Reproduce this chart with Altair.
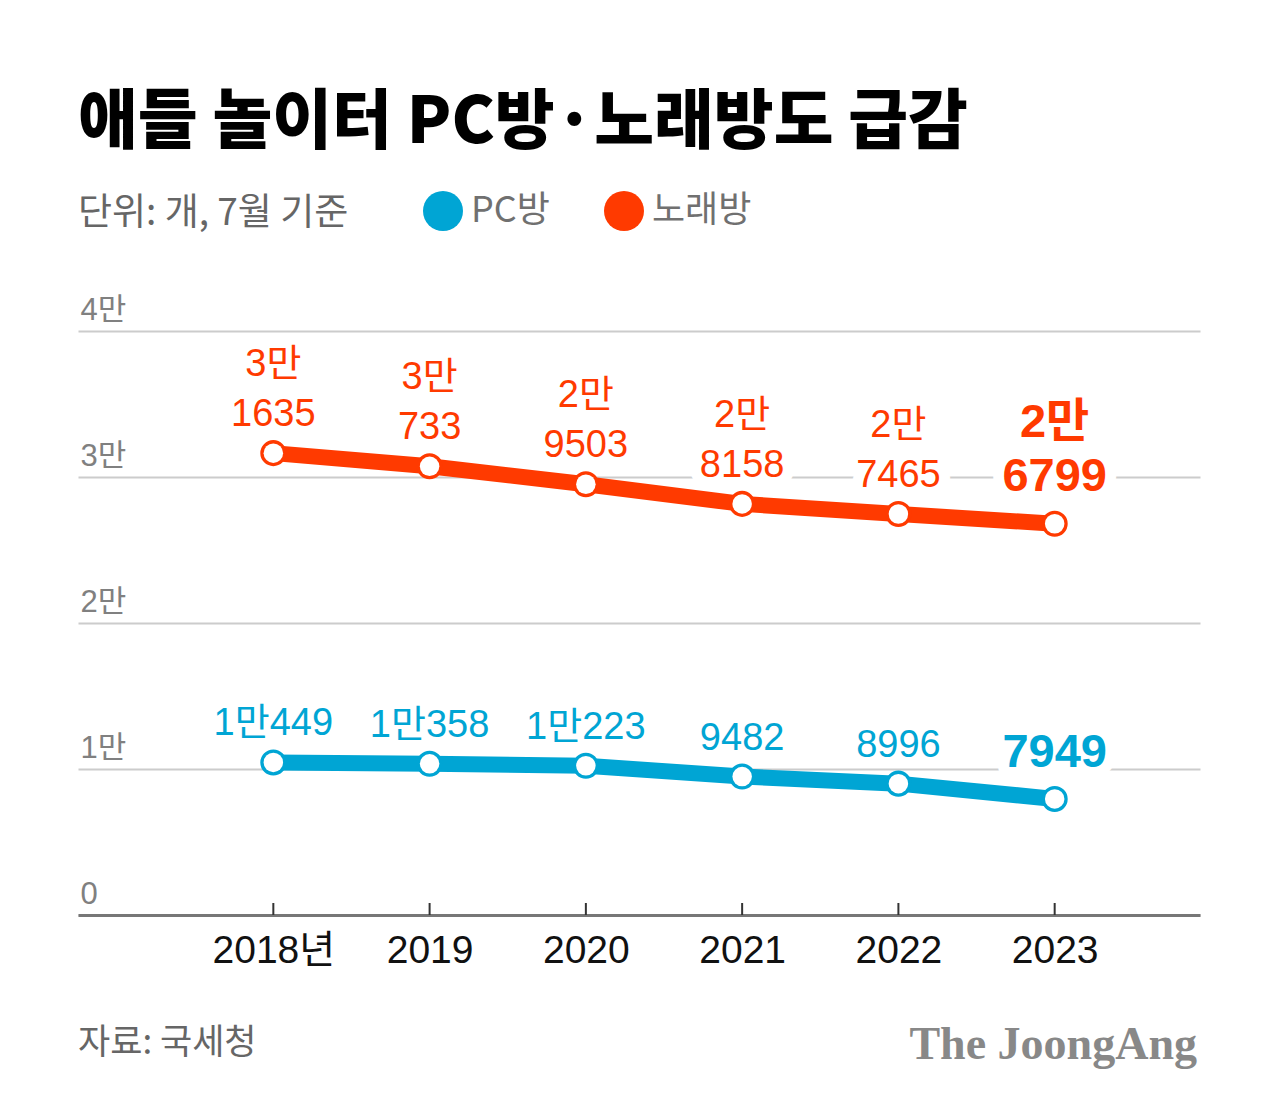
import altair as alt
import pandas as pd

YEARS = [2018, 2019, 2020, 2021, 2022, 2023]
PC = [10449, 10358, 10223, 9482, 8996, 7949]
SING = [31635, 30733, 29503, 28158, 27465, 26799]
SERIES = ["PC방", "노래방"]
COLORS = ["#00a5d4", "#ff3a00"]
Y_TICKS = [0, 10000, 20000, 30000, 40000]
TITLE = "애들 놀이터 PC방·노래방도 급감"
SUBTITLE = "단위: 개, 7월 기준"
SOURCE = "자료: 국세청"
BRAND = "The JoongAng"

FONT = "Liberation Sans, Noto Sans CJK KR"
KFONT = "Noto Sans CJK KR"
W, H = 1122, 584

long_df = pd.DataFrame(
    {
        "year": YEARS * 2,
        "value": PC + SING,
        "series": [SERIES[0]] * len(YEARS) + [SERIES[1]] * len(YEARS),
    }
)
sing_df = pd.DataFrame(
    {
        "year": YEARS,
        "value": SING,
        "l1": [f"{v // 10000}만" for v in SING],
        "l2": [str(v % 10000) for v in SING],
    }
)
pc_df = pd.DataFrame(
    {
        "year": YEARS,
        "value": PC,
        "lab": [f"{v // 10000}만{v % 10000}" if v >= 10000 else str(v) for v in PC],
    }
)
years_df = pd.DataFrame({"year": YEARS})

XS = alt.Scale(domain=[2016.75, 2023.93], nice=False, zero=False)
YS = alt.Scale(domain=[0, 40000], nice=False)
XAX = alt.Axis(
    values=YEARS, format="d",
    labelExpr="datum.value == 2018 ? datum.label + '년' : datum.label",
    grid=False, ticks=False, domainColor="#777", domainWidth=3,
    labelFont=FONT, labelFontSize=39, labelColor="#111", labelPadding=16,
    title=None,
)
YAX = alt.Axis(
    values=Y_TICKS,
    labelExpr="datum.value == 0 ? '0' : (datum.value / 10000) + '만'",
    grid=True, gridColor="#cccccc", gridWidth=2, domain=False, ticks=False,
    labelAlign="left", labelBaseline="alphabetic", labelPadding=-2, labelOffset=-12,
    labelFont=FONT, labelFontSize=31, labelColor="#808080", title=None,
)
X = alt.X("year:Q", scale=XS, axis=XAX)
Y = alt.Y("value:Q", scale=YS, axis=YAX)
CSCALE = alt.Scale(domain=SERIES, range=COLORS)
LEGEND = alt.Legend(
    orient="none", legendX=345, legendY=-140, direction="horizontal", title=None,
    symbolType="circle", symbolSize=1600, symbolOpacity=1, symbolStrokeWidth=0,
    labelFont=KFONT, labelFontSize=36, labelColor="#707070", labelOffset=8,
    columnPadding=54, padding=0, labelLimit=0,
)


def label_layers(df, field, dy, size, weight, color):
    base = alt.Chart(df).encode(x=X, y=Y, text=f"{field}:N")
    halo = base.mark_text(
        font=FONT, fontSize=size, fontWeight=weight, dy=dy, baseline="alphabetic",
        align="center", fill="white", stroke="white", strokeWidth=22, strokeJoin="round",
    )
    txt = base.mark_text(
        font=FONT, fontSize=size, fontWeight=weight, dy=dy, baseline="alphabetic",
        align="center", color=color,
    )
    return halo, txt


sing_reg = sing_df[sing_df.year != 2023]
sing_last = sing_df[sing_df.year == 2023]
pc_reg = pc_df[pc_df.year != 2023]
pc_last = pc_df[pc_df.year == 2023]

halos, texts = [], []
for args in [
    (sing_reg, "l1", -77, 38, "normal", COLORS[1]),
    (sing_reg, "l2", -27, 38, "normal", COLORS[1]),
    (sing_last, "l1", -87, 47, "bold", COLORS[1]),
    (sing_last, "l2", -33, 47, "bold", COLORS[1]),
    (pc_reg, "lab", -27, 38, "normal", COLORS[0]),
    (pc_last, "lab", -32, 47, "bold", COLORS[0]),
]:
    h, t = label_layers(*args)
    halos.append(h)
    texts.append(t)

ticks = alt.Chart(years_df).mark_rule(color="#333", strokeWidth=2).encode(
    x=X, y=alt.value(H), y2=alt.value(H - 12)
)
line_pc = alt.Chart(pc_df).mark_line(strokeWidth=16, color=COLORS[0]).encode(x=X, y=Y)
line_sing = alt.Chart(sing_df).mark_line(strokeWidth=16, color=COLORS[1]).encode(x=X, y=Y)
dots = alt.Chart(long_df).mark_circle(size=680, opacity=1).encode(
    x=X, y=Y, color=alt.Color("series:N", scale=CSCALE, legend=LEGEND)
)
holes = alt.Chart(long_df).mark_circle(size=380, opacity=1, color="white").encode(x=X, y=Y)


def free_text(txt, x, y, size, color, font, weight="normal", align="left"):
    return alt.Chart(pd.DataFrame({"t": [txt]})).mark_text(
        align=align, baseline="middle", font=font, fontSize=size,
        fontWeight=weight, color=color,
    ).encode(text="t:N", x=alt.value(x), y=alt.value(y))


title = free_text(TITLE, 0, -208, 65, "#000", KFONT, 900)
subtitle = free_text(SUBTITLE, 0, -117, 37, "#666", KFONT)
source = free_text(SOURCE, 0, 712, 35, "#666", KFONT)
brand = free_text(BRAND, 1119, 714, 46, "#888", "Liberation Serif", "bold", "right")

chart = alt.layer(
    ticks, *halos, line_pc, line_sing, dots, holes, *texts, title, subtitle, source, brand
).properties(
    width=W, height=H,
    padding={"left": 70, "top": 323, "right": 60, "bottom": 190},
    autosize=alt.AutoSizeParams(type="none"),
    background="white",
).configure_view(stroke=None)

chart.save("out.html", embed_options={"renderer": "svg", "actions": False})
